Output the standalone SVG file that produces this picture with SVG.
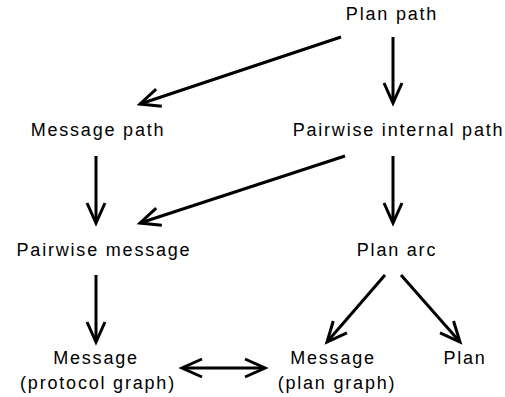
<svg xmlns="http://www.w3.org/2000/svg" width="505" height="397" viewBox="0 0 505 397">
<style>
text{font-family:"Liberation Sans",Arial,sans-serif;font-size:18px;letter-spacing:1.8px;fill:#000;text-anchor:middle}
.c line{stroke:#000;stroke-width:3;fill:none}
</style>
<defs>
<marker id="ah" markerUnits="userSpaceOnUse" markerWidth="30" markerHeight="30" viewBox="-22 -15 30 30" refX="0" refY="0" orient="auto-start-reverse">
<path d="M-20,-9 L0,0 L-20,9" fill="none" stroke="#000" stroke-width="3"/>
</marker>
</defs>
<rect width="505" height="397" fill="#fff"/>
<g class="c" id="connectors">
<line x1="341" y1="37" x2="140" y2="104" marker-end="url(#ah)"/>
<line x1="393" y1="37" x2="393" y2="103" marker-end="url(#ah)"/>
<line x1="96" y1="156" x2="96" y2="223" marker-end="url(#ah)"/>
<line x1="345" y1="156" x2="140" y2="223" marker-end="url(#ah)"/>
<line x1="393" y1="156" x2="393" y2="223" marker-end="url(#ah)"/>
<line x1="96" y1="275" x2="96" y2="342" marker-end="url(#ah)"/>
<line x1="385" y1="275" x2="327" y2="342" marker-end="url(#ah)"/>
<line x1="401" y1="275" x2="460" y2="342" marker-end="url(#ah)"/>
<line x1="182" y1="368" x2="265" y2="368" marker-start="url(#ah)" marker-end="url(#ah)"/>
</g>
<g id="plan-path"><text x="392" y="20">Plan path</text></g>
<g id="message-path"><text x="98" y="136">Message path</text></g>
<g id="pairwise-internal-path"><text x="398.5" y="136">Pairwise internal path</text></g>
<g id="pairwise-message"><text x="104" y="256">Pairwise message</text></g>
<g id="plan-arc"><text x="397" y="256">Plan arc</text></g>
<g id="message-protocol"><text x="96" y="364">Message</text><text x="98" y="389">(protocol graph)</text></g>
<g id="message-plan"><text x="333" y="364">Message</text><text x="337" y="389">(plan graph)</text></g>
<g id="plan"><text x="465" y="364">Plan</text></g>
</svg>
